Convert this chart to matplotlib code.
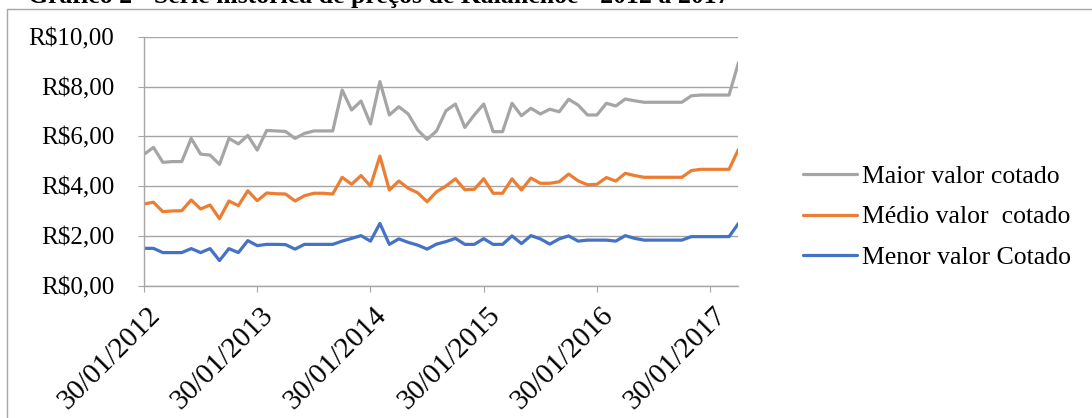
import numpy as np
import matplotlib
matplotlib.use("Agg")
import matplotlib.pyplot as plt
from matplotlib.patches import Rectangle
from matplotlib.ticker import FuncFormatter, FixedLocator
from matplotlib.transforms import ScaledTranslation

plt.rcParams['font.family'] = ['Liberation Serif', 'DejaVu Serif']

# monthly quotes, jan/2012 .. apr/2017
maior = [5.28, 5.56, 4.96, 4.99, 4.99, 5.92, 5.29, 5.25, 4.88, 5.92, 5.70, 6.04,
         5.45, 6.24, 6.22, 6.20, 5.92, 6.12, 6.22, 6.22, 6.22, 7.86, 7.06, 7.42,
         6.50, 8.20, 6.86, 7.19, 6.90, 6.26, 5.88, 6.22, 7.03, 7.30, 6.36, 6.86,
         7.30, 6.19, 6.19, 7.33, 6.83, 7.13, 6.90, 7.09, 6.99, 7.49, 7.26, 6.86,
         6.86, 7.33, 7.22, 7.50, 7.43, 7.37, 7.37, 7.37, 7.37, 7.37, 7.63, 7.66,
         7.66, 7.66, 7.66, 8.96]
medio = [3.29, 3.36, 2.98, 3.01, 3.02, 3.45, 3.09, 3.25, 2.70, 3.41, 3.22, 3.82,
         3.42, 3.73, 3.70, 3.69, 3.41, 3.62, 3.72, 3.72, 3.69, 4.36, 4.08, 4.43,
         4.01, 5.21, 3.85, 4.21, 3.92, 3.74, 3.38, 3.78, 4.01, 4.30, 3.86, 3.88,
         4.30, 3.72, 3.72, 4.30, 3.85, 4.33, 4.12, 4.12, 4.18, 4.49, 4.22, 4.06,
         4.08, 4.35, 4.21, 4.52, 4.43, 4.36, 4.36, 4.36, 4.36, 4.36, 4.63, 4.68,
         4.68, 4.68, 4.68, 5.48]
menor = [1.51, 1.51, 1.34, 1.34, 1.34, 1.50, 1.34, 1.50, 1.02, 1.50, 1.34, 1.82,
         1.62, 1.67, 1.67, 1.66, 1.48, 1.67, 1.67, 1.67, 1.67, 1.80, 1.91, 2.02,
         1.80, 2.51, 1.67, 1.89, 1.75, 1.64, 1.48, 1.68, 1.78, 1.91, 1.67, 1.67,
         1.90, 1.67, 1.67, 2.01, 1.70, 2.02, 1.89, 1.68, 1.89, 2.01, 1.80, 1.84,
         1.84, 1.84, 1.80, 2.02, 1.91, 1.84, 1.84, 1.84, 1.84, 1.84, 1.98, 1.98,
         1.98, 1.98, 1.98, 2.51]
months = np.arange(len(maior))
year_ticks = [0, 12, 24, 36, 48, 60]
year_labels = ['30/01/2012', '30/01/2013', '30/01/2014',
               '30/01/2015', '30/01/2016', '30/01/2017']

W, H = 1092, 418
fig = plt.figure(figsize=(W / 100, H / 100), dpi=100)
fig.patch.set_facecolor('white')

# outer chart frame (runs off the right/bottom edges)
fig.add_artist(Rectangle((6.5 / W, -0.1), 2, 1 - 8.5 / H + 0.1, fill=False,
                         edgecolor='#a6a6a6', lw=1, transform=fig.transFigure))

fig.text(28 / W, 1 - 3.5 / H,
         'Gráfico 2 - Série histórica de preços de Kalanchoe - 2012 a 2017',
         fontsize=18.5, fontweight='bold', va='baseline', ha='left')

ax = fig.add_axes([144 / W, 1 - 286 / H, (738.5 - 144) / W, (286 - 36.7) / H])

ax.plot(months, maior, color='#a5a5a5', lw=2.3, label='Maior valor cotado',
        solid_joinstyle='round', solid_capstyle='round')
ax.plot(months, medio, color='#ed7d31', lw=2.3, label='Médio valor  cotado',
        solid_joinstyle='round', solid_capstyle='round')
ax.plot(months, menor, color='#4472c4', lw=2.3, label='Menor valor Cotado',
        solid_joinstyle='round', solid_capstyle='round')

ax.set_ylim(0, 10)
ax.set_xlim(0, 63)
ax.set_yticks(np.arange(0, 10.1, 2))
ax.yaxis.set_major_formatter(FuncFormatter(lambda v, p: f'R${v:.2f}'.replace('.', ',')))
ax.grid(axis='y', color='#a6a6a6', lw=1)
ax.set_axisbelow(True)

for s in ['top', 'right']:
    ax.spines[s].set_visible(False)
for s in ['left', 'bottom']:
    ax.spines[s].set_color('#a6a6a6')
    ax.spines[s].set_linewidth(1)

ax.tick_params(axis='y', direction='out', length=4.3, color='#a6a6a6',
               labelsize=18, pad=17)
ax.tick_params(axis='x', direction='out', length=4.3, color='#a6a6a6',
               labelsize=21, pad=7)

ax.xaxis.set_major_locator(FixedLocator(year_ticks))
ax.set_xticklabels(year_labels, rotation=45, ha='right', va='top',
                   rotation_mode='anchor')
shift = ScaledTranslation(3 / 100, 0, fig.dpi_scale_trans)
for lab in ax.get_xticklabels():
    lab.set_transform(lab.get_transform() + shift)

fig.legend(loc='center left', bbox_to_anchor=(793 / W, 1 - 217 / H),
           frameon=False, fontsize=18.5, handlelength=2.1, handletextpad=0.2,
           labelspacing=0.7, borderaxespad=0)

fig.savefig('out.png', dpi=100, facecolor='white')
